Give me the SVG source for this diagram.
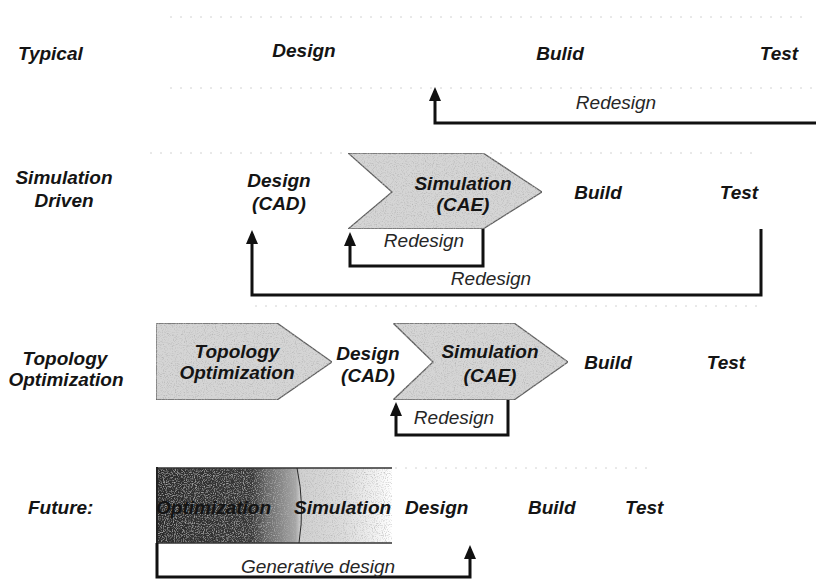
<svg xmlns="http://www.w3.org/2000/svg" width="816" height="581" viewBox="0 0 816 581">
  <style>
    text { font-family: "Liberation Sans", Arial, sans-serif; font-style: italic; font-size: 19px; fill: #141414; }
    .b { font-weight: bold; }
    .n { font-weight: normal; fill: #262626; }
    .m { text-anchor: middle; }
    .chev { fill: #d5d5d5; stroke: #5e5e5e; stroke-width: 1.3; filter: url(#grain); }
    .loop { fill: none; stroke: #111; stroke-width: 3; stroke-linejoin: miter; }
    .band { stroke: #d2d2d2; stroke-width: 1; stroke-dasharray: 2 8; fill: none; }
  </style>
  <defs>
    <marker id="arrow" markerUnits="userSpaceOnUse" markerWidth="14" markerHeight="12" viewBox="0 0 14 12" refX="10" refY="6" orient="auto">
      <path d="M0,0 L14,6 L0,12 Z" fill="#111"/>
    </marker>
    <!-- stippled print texture for the shaded shapes -->
    <filter id="grain" x="0" y="0" width="100%" height="100%">
      <feTurbulence type="fractalNoise" baseFrequency="0.9" numOctaves="2" seed="7" result="noise"/>
      <feColorMatrix in="noise" type="matrix" values="0 0 0 0 0.45  0 0 0 0 0.45  0 0 0 0 0.45  0 0 0 -2.2 1.15" result="dots"/>
      <feComposite in="dots" in2="SourceGraphic" operator="in" result="clipped"/>
      <feMerge>
        <feMergeNode in="SourceGraphic"/>
        <feMergeNode in="clipped"/>
      </feMerge>
    </filter>
    <linearGradient id="fade" x1="157" y1="0" x2="392" y2="0" gradientUnits="userSpaceOnUse">
      <stop offset="0" stop-color="#2c2c2c"/>
      <stop offset="0.40" stop-color="#383838"/>
      <stop offset="0.46" stop-color="#666666"/>
      <stop offset="0.59" stop-color="#a6a6a6"/>
      <stop offset="0.61" stop-color="#d0d0d0"/>
      <stop offset="0.80" stop-color="#dddddd"/>
      <stop offset="0.93" stop-color="#f2f2f2"/>
      <stop offset="1" stop-color="#ffffff"/>
    </linearGradient>
  </defs>

  <rect width="816" height="581" fill="#ffffff"/>

  <!-- faint band edges behind each process row -->
  <g id="bands">
    <path class="band" d="M170,17 H805"/>
    <path class="band" d="M170,88 H816"/>
    <path class="band" d="M150,153 H345 M490,153 H760"/>
    <path class="band" d="M255,306 H760"/>
    <path class="band" d="M395,468 H650"/>
  </g>

  <!-- Row 1: typical process -->
  <g id="row-typical">
    <text class="b" x="18" y="60">Typical</text>
    <text class="b m" x="304" y="57">Design</text>
    <text class="b m" x="560" y="60">Bulid</text>
    <text class="b m" x="779" y="60">Test</text>
  </g>

  <!-- Row 2: simulation driven -->
  <g id="row-simulation">
    <text class="b m" x="64" y="184">Simulation</text>
    <text class="b m" x="64" y="207">Driven</text>
    <text class="b m" x="279" y="187">Design</text>
    <text class="b m" x="279" y="210">(CAD)</text>
  </g>
  <g id="sim-cae-1">
    <polygon class="chev" points="348,153 483,153 542,192 483,229 348,229 392,192"/>
    <text class="b m" x="463" y="190">Simulation</text>
    <text class="b m" x="463" y="211">(CAE)</text>
  </g>
  <g id="build-2"><text class="b m" x="598" y="199">Build</text></g>
  <g id="test-2"><text class="b m" x="739" y="199">Test</text></g>

  <!-- Row 3: topology optimization -->
  <g id="row-topology">
    <text class="b m" x="65" y="365">Topology</text>
    <text class="b m" x="66" y="386">Optimization</text>
  </g>
  <g id="topo-opt">
    <polygon class="chev" points="156,323 277,323 332,362 277,400 156,400"/>
    <text class="b m" x="237" y="358">Topology</text>
    <text class="b m" x="237" y="379">Optimization</text>
  </g>
  <g id="design-3">
    <text class="b m" x="368" y="360">Design</text>
    <text class="b m" x="368" y="382">(CAD)</text>
  </g>
  <g id="sim-cae-2">
    <polygon class="chev" points="393,323 514,323 568,362 514,400 393,400 433,362"/>
    <text class="b m" x="490" y="358">Simulation</text>
    <text class="b m" x="490" y="382">(CAE)</text>
  </g>
  <g id="build-3"><text class="b m" x="608" y="369">Build</text></g>
  <g id="test-3"><text class="b m" x="726" y="369">Test</text></g>

  <!-- Row 4: future, generative design -->
  <g id="row-future">
    <text class="b" x="28" y="514">Future:</text>
  </g>
  <g id="generative-band">
    <rect x="157" y="468" width="235" height="75" fill="url(#fade)" filter="url(#grain)"/>
    <path d="M157,468 H392 M157,543 H392" stroke="#333" stroke-width="1.5" fill="none"/>
    <path d="M157,467 V544" stroke="#222" stroke-width="2" fill="none"/>
    <path d="M297,468 Q305,505 299,543" stroke="#2a2a2a" stroke-width="1" fill="none"/>
    <text class="b" x="156" y="514">Optimization</text>
    <text class="b" x="294" y="514">Simulation</text>
  </g>
  <g id="design-4"><text class="b" x="405" y="514">Design</text></g>
  <g id="build-4"><text class="b" x="528" y="514">Build</text></g>
  <g id="test-4"><text class="b" x="625" y="514">Test</text></g>

  <!-- feedback loops -->
  <g id="connectors">
    <path class="loop" d="M816,123 H435 V91" marker-end="url(#arrow)"/>
    <text class="n m" x="616" y="109">Redesign</text>

    <path class="loop" d="M483,229 V266 H350 V236" marker-end="url(#arrow)"/>
    <text class="n m" x="424" y="247">Redesign</text>

    <path class="loop" d="M761,229 V295 H252 V234" marker-end="url(#arrow)"/>
    <text class="n m" x="491" y="285">Redesign</text>

    <path class="loop" d="M508,400 V435 H396 V406" marker-end="url(#arrow)"/>
    <text class="n m" x="454" y="424">Redesign</text>

    <path class="loop" d="M157,543 V577 H470 V549" marker-end="url(#arrow)"/>
    <text class="n m" x="318" y="573">Generative design</text>
  </g>
</svg>
